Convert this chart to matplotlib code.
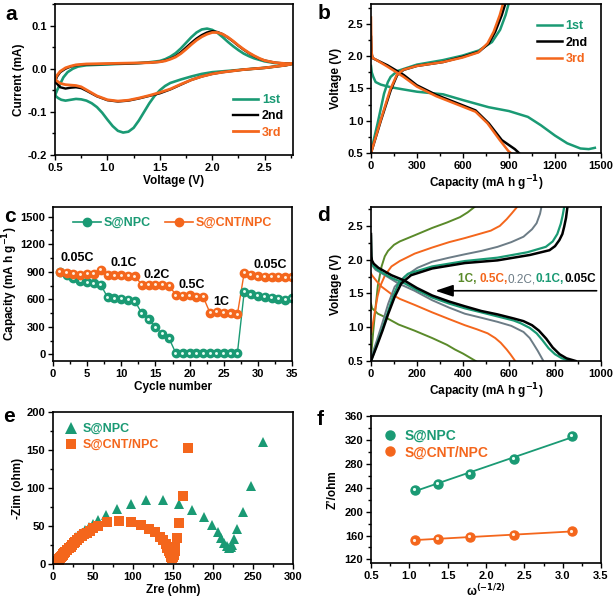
import numpy as np
import matplotlib
matplotlib.use('Agg')
import matplotlib.pyplot as plt
from matplotlib.ticker import AutoMinorLocator, MultipleLocator
from matplotlib.lines import Line2D
from matplotlib.offsetbox import TextArea, HPacker, AnnotationBbox
import matplotlib.transforms as mtransforms

plt.rcParams['font.family'] = ['Liberation Sans', 'DejaVu Sans']
plt.rcParams['font.weight'] = 'bold'
plt.rcParams['axes.labelweight'] = 'bold'
plt.rcParams['mathtext.default'] = 'bf'
plt.rcParams['axes.unicode_minus'] = False

GREEN = '#1a9a74'
ORANGE = '#f4661c'
OLIVE = '#5a8a2a'
GRAY = '#6c7c86'

#%% data

# a: CV curves (voltage, current), closed loops
cv_1st = np.array([(0.50, -0.062), (0.52, -0.05), (0.55, -0.035), (0.58, -0.02), (0.62, -0.008), (0.67, 0.0),
                   (0.72, 0.005), (0.8, 0.008), (0.9, 0.009), (1.0, 0.010), (1.1, 0.011), (1.2, 0.012),
                   (1.3, 0.013), (1.4, 0.015), (1.5, 0.018), (1.55, 0.022), (1.6, 0.028), (1.65, 0.036),
                   (1.7, 0.047), (1.75, 0.06), (1.8, 0.073), (1.85, 0.084), (1.9, 0.091), (1.95, 0.093),
                   (2.0, 0.090), (2.05, 0.083), (2.1, 0.073), (2.15, 0.062), (2.2, 0.052), (2.25, 0.043),
                   (2.3, 0.035), (2.35, 0.029), (2.4, 0.024), (2.5, 0.017), (2.6, 0.013), (2.7, 0.012),
                   (2.78, 0.012), (2.7, 0.008), (2.6, 0.005), (2.5, 0.002), (2.4, 0.0), (2.3, -0.002),
                   (2.2, -0.004), (2.1, -0.006), (2.0, -0.008), (1.9, -0.012), (1.8, -0.018), (1.7, -0.025),
                   (1.6, -0.033), (1.55, -0.04), (1.5, -0.05), (1.45, -0.063), (1.4, -0.08), (1.35, -0.1),
                   (1.3, -0.12), (1.25, -0.137), (1.2, -0.146), (1.15, -0.148), (1.1, -0.144), (1.05, -0.133),
                   (1.0, -0.118), (0.95, -0.102), (0.9, -0.089), (0.85, -0.08), (0.8, -0.074), (0.75, -0.071),
                   (0.7, -0.07), (0.65, -0.072), (0.6, -0.074), (0.56, -0.072), (0.53, -0.068), (0.5, -0.062)])
cv_2nd = np.array([(0.5, -0.03), (0.52, -0.018), (0.55, -0.008), (0.6, 0.0), (0.65, 0.005), (0.7, 0.008),
                   (0.8, 0.010), (1.0, 0.011), (1.2, 0.012), (1.4, 0.014), (1.5, 0.016), (1.55, 0.019),
                   (1.6, 0.023), (1.65, 0.029), (1.7, 0.038), (1.75, 0.049), (1.8, 0.060), (1.85, 0.070),
                   (1.9, 0.078), (1.95, 0.084), (2.0, 0.087), (2.05, 0.085), (2.1, 0.080), (2.15, 0.072),
                   (2.2, 0.063), (2.25, 0.053), (2.3, 0.044), (2.35, 0.036), (2.4, 0.029), (2.45, 0.023),
                   (2.5, 0.019), (2.6, 0.014), (2.7, 0.012), (2.78, 0.012), (2.7, 0.008), (2.6, 0.005),
                   (2.5, 0.002), (2.4, 0.0), (2.3, -0.002), (2.2, -0.005), (2.1, -0.008), (2.0, -0.012),
                   (1.9, -0.018), (1.8, -0.026), (1.7, -0.037), (1.6, -0.048), (1.5, -0.057), (1.4, -0.063),
                   (1.3, -0.069), (1.2, -0.074), (1.1, -0.076), (1.0, -0.073), (0.9, -0.064), (0.8, -0.051),
                   (0.75, -0.045), (0.7, -0.043), (0.65, -0.044), (0.6, -0.046), (0.55, -0.043), (0.5, -0.03)])
cv_3rd = np.array([(0.5, -0.025), (0.52, -0.015), (0.55, -0.006), (0.6, 0.002), (0.65, 0.006), (0.7, 0.009),
                   (0.8, 0.011), (1.0, 0.012), (1.2, 0.013), (1.4, 0.014), (1.5, 0.016), (1.55, 0.018),
                   (1.6, 0.022), (1.65, 0.027), (1.7, 0.035), (1.75, 0.045), (1.8, 0.056), (1.85, 0.066),
                   (1.9, 0.074), (1.95, 0.080), (2.0, 0.084), (2.05, 0.084), (2.1, 0.080), (2.15, 0.073),
                   (2.2, 0.064), (2.25, 0.054), (2.3, 0.045), (2.35, 0.037), (2.4, 0.030), (2.45, 0.024),
                   (2.5, 0.019), (2.6, 0.014), (2.7, 0.012), (2.78, 0.012), (2.7, 0.008), (2.6, 0.005),
                   (2.5, 0.002), (2.4, 0.0), (2.3, -0.002), (2.2, -0.005), (2.1, -0.008), (2.0, -0.012),
                   (1.9, -0.018), (1.8, -0.026), (1.7, -0.036), (1.6, -0.047), (1.5, -0.055), (1.4, -0.062),
                   (1.3, -0.068), (1.2, -0.073), (1.1, -0.075), (1.0, -0.072), (0.9, -0.063), (0.8, -0.049),
                   (0.75, -0.042), (0.7, -0.039), (0.65, -0.038), (0.6, -0.037), (0.55, -0.034), (0.5, -0.025)])

# b: first three cycles (capacity, voltage)
b_1st_dis = np.array([(0, 1.85), (5, 1.75), (15, 1.68), (30, 1.6), (64, 1.56), (128, 1.52), (200, 1.49),
                      (300, 1.45), (470, 1.41), (600, 1.32), (767, 1.21), (900, 1.15), (1023, 1.06),
                      (1108, 0.93), (1200, 0.77), (1280, 0.65), (1366, 0.57), (1420, 0.56), (1460, 0.58)])
b_1st_chg = np.array([(0, 0.52), (43, 0.96), (85, 1.42), (110, 1.6), (128, 1.68), (171, 1.77), (299, 1.87),
                      (469, 1.94), (597, 2.01), (704, 2.09), (789, 2.22), (842, 2.41), (878, 2.64), (896, 2.8)])
b_2nd_dis = np.array([(0, 2.3), (3, 2.05), (11, 1.97), (107, 1.86), (213, 1.71), (299, 1.55), (426, 1.40),
                      (597, 1.24), (682, 1.16), (768, 0.96), (853, 0.70), (938, 0.56), (965, 0.5)])
b_2nd_chg = np.array([(0, 0.5), (64, 1.0), (128, 1.47), (171, 1.71), (213, 1.79), (299, 1.85), (469, 1.91),
                      (597, 1.99), (704, 2.07), (768, 2.2), (810, 2.38), (853, 2.64), (874, 2.8)])
b_3rd_dis = np.array([(0, 2.6), (3, 2.1), (8, 1.98), (107, 1.84), (213, 1.68), (299, 1.53), (426, 1.38),
                      (597, 1.22), (682, 1.14), (760, 0.96), (840, 0.70), (896, 0.53), (912, 0.5)])
b_3rd_chg = np.array([(0, 0.5), (62, 1.0), (125, 1.48), (168, 1.71), (210, 1.79), (299, 1.85), (469, 1.91),
                      (597, 1.98), (700, 2.06), (760, 2.2), (800, 2.38), (840, 2.64), (859, 2.8)])

# c: rate capability
cycles = np.arange(1, 36)
cap_npc = [893, 864, 830, 800, 785, 775, 757, 620, 610, 605, 595, 580, 447, 381, 294, 221, 174,
           10, 10, 10, 10, 10, 10, 10, 10, 10, 10, 680, 655, 640, 628, 618, 605, 595, 610]
cap_cnt = [900, 890, 880, 870, 875, 880, 920, 865, 860, 860, 855, 850, 760, 755, 755, 755, 750,
           645, 640, 645, 630, 625, 450, 465, 455, 445, 435, 890, 865, 850, 845, 845, 845, 840, 840]
rate_labels = ['0.05C', '0.1C', '0.2C', '0.5C', '1C', '0.05C']
rate_label_x = [3.5, 10.3, 15.2, 20.3, 24.7, 31.8]
rate_label_y = [1050, 992, 864, 755, 573, 973]

# d: discharge / charge at different rates
d_005_dis = np.array([(0, 2.38), (1, 2.2), (2, 2.05), (4, 1.99), (12, 1.94), (32, 1.88), (89, 1.77), (146, 1.69),
                      (200, 1.58), (266, 1.47), (340, 1.38), (408, 1.31), (480, 1.24), (550, 1.19), (620, 1.13),
                      (663, 1.09), (700, 1.03), (730, 0.95), (762, 0.83), (790, 0.7), (820, 0.6), (850, 0.54),
                      (890, 0.5)])
d_005_chg = np.array([(0, 0.5), (25, 0.72), (50, 0.95), (75, 1.2), (103, 1.45), (132, 1.65), (174, 1.77),
                      (266, 1.87), (408, 1.95), (550, 1.99), (691, 2.07), (776, 2.14), (800, 2.2), (819, 2.29),
                      (832, 2.38), (840, 2.49), (848, 2.62), (854, 2.78)])
d_01_dis = np.array([(0, 2.35), (1, 2.15), (2, 2.0), (4, 1.95), (12, 1.9), (32, 1.84), (89, 1.73), (146, 1.65),
                     (200, 1.55), (266, 1.44), (340, 1.35), (408, 1.28), (480, 1.22), (550, 1.16), (620, 1.1),
                     (650, 1.06), (690, 0.99), (720, 0.91), (745, 0.81), (772, 0.69), (800, 0.6), (830, 0.54),
                     (865, 0.5)])
d_01_chg = np.array([(0, 0.5), (25, 0.74), (50, 0.98), (75, 1.24), (95, 1.45), (120, 1.65), (160, 1.79),
                     (266, 1.9), (408, 1.98), (550, 2.03), (680, 2.11), (760, 2.19), (790, 2.27), (810, 2.38),
                     (825, 2.53), (833, 2.65), (840, 2.78)])
d_02_dis = np.array([(0, 2.0), (4, 1.92), (20, 1.85), (46, 1.8), (118, 1.65), (189, 1.54), (266, 1.40),
                     (340, 1.29), (408, 1.2), (480, 1.14), (550, 1.08), (610, 1.02), (663, 0.93), (690, 0.84),
                     (705, 0.76), (725, 0.65), (748, 0.51)])
d_02_chg = np.array([(0, 0.55), (25, 0.8), (50, 1.07), (75, 1.35), (103, 1.6), (146, 1.75), (202, 1.88),
                     (266, 1.97), (340, 2.03), (408, 2.08), (480, 2.13), (550, 2.19), (610, 2.26), (663, 2.34),
                     (700, 2.45), (720, 2.54), (735, 2.68), (741, 2.78)])
d_05_dis = np.array([(0, 1.8), (4, 1.77), (25, 1.68), (46, 1.6), (89, 1.49), (125, 1.42), (190, 1.33),
                     (266, 1.22), (340, 1.12), (408, 1.03), (460, 0.97), (507, 0.91), (540, 0.84), (564, 0.77),
                     (590, 0.67), (606, 0.6), (627, 0.5)])
d_05_chg = np.array([(0, 0.9), (8, 1.05), (18, 1.25), (28, 1.45), (39, 1.6), (61, 1.77), (89, 1.9), (125, 1.98),
                     (190, 2.09), (266, 2.18), (340, 2.26), (408, 2.32), (470, 2.38), (521, 2.43), (560, 2.5),
                     (590, 2.6), (613, 2.69), (635, 2.78)])
d_1_dis = np.array([(0, 1.35), (5, 1.28), (30, 1.2), (61, 1.15), (120, 1.04), (189, 0.95), (266, 0.84),
                    (330, 0.74), (365, 0.67), (400, 0.61), (430, 0.55), (455, 0.5)])
d_1_chg = np.array([(0, 0.55), (5, 0.75), (10, 0.95), (20, 1.3), (30, 1.62), (46, 1.9), (60, 2.05), (74, 2.13),
                    (100, 2.22), (125, 2.27), (189, 2.36), (266, 2.47), (330, 2.55), (387, 2.63), (420, 2.7),
                    (450, 2.78)])

# e: Nyquist plots (Zre, -Zim)
eis_npc = np.array([(3, 2), (4, 3), (5, 5), (6, 6), (7, 8), (8, 9), (9, 11), (10, 13), (11, 14), (12, 16),
                    (14, 18), (15, 20), (17, 22), (19, 24), (21, 27), (23, 29), (26, 32), (29, 35), (32, 38),
                    (36, 41), (40, 45), (45, 49), (50, 53), (56, 58), (66, 65), (80, 73), (97, 79), (116, 84),
                    (137, 84), (157, 79), (174, 71), (189, 62), (199, 51), (206, 42), (210, 34), (214, 28),
                    (217, 24), (220, 21), (222, 22), (224, 25), (226, 33), (230, 46), (237, 68), (247, 102),
                    (262, 160)])
eis_cnt = np.array([(3, 1), (4, 2), (5, 3), (6, 4), (7, 5), (8, 6), (9, 8), (10, 9), (11, 10), (12, 12),
                    (13, 13), (14, 14), (15, 16), (17, 18), (18, 19), (20, 21), (22, 23), (24, 25), (26, 27),
                    (28, 29), (30, 31), (33, 34), (36, 37), (39, 39), (42, 41), (46, 44), (50, 47), (56, 50),
                    (68, 55), (83, 56), (97, 55), (110, 51), (120, 46), (128, 42), (134, 36), (138, 31),
                    (141, 26), (143, 21), (145, 17), (146, 14), (147, 11), (148, 9), (149, 8), (150, 9),
                    (151, 12), (152, 17), (153, 23), (155, 34), (157, 54), (162, 89), (169, 152)])

# f: Z' vs omega^-1/2
omega = [1.07, 1.37, 1.79, 2.36, 3.12]
z_npc = [237, 247, 263, 288, 327]
z_cnt = [152, 155, 157.5, 161, 167]

#%% figure

W, H = 616, 607
fig = plt.figure(figsize=(W / 100, H / 100), dpi=100)


def box(l, r, t, b):
    return [l / W, 1 - b / H, (r - l) / W, (b - t) / H]


def style(ax):
    for s in ax.spines.values():
        s.set_linewidth(1.2)
    ax.tick_params(which='both', direction='out', top=False, right=False, labelsize=8, width=1.0)
    ax.tick_params(which='major', length=3.5, pad=2)
    ax.tick_params(which='minor', length=2)
    ax.xaxis.set_minor_locator(AutoMinorLocator(2))
    ax.yaxis.set_minor_locator(AutoMinorLocator(2))
    for lab in ax.get_xticklabels() + ax.get_yticklabels():
        lab.set_fontweight('bold')


def sphere(ax, x, y, color, ms, **kw):
    h1, = ax.plot(x, y, 'o', color=color, ms=ms, mec=color, **kw)
    off = mtransforms.offset_copy(ax.transData, fig=fig, x=-0.4, y=0.4, units='points')
    h2, = ax.plot(x, y, 'o', color='#e8fff4' if color == GREEN else '#fff0e0', ms=ms * 0.35,
                  mew=0, transform=off)
    return h1, h2


LAB = 8.5
R = 601  # right edge of right-hand panels

# ---- a
ax = fig.add_axes(box(55, 293, 4, 155))
for data, c, lab, lw in [(cv_1st, GREEN, '1st', 1.9), (cv_2nd, 'black', '2nd', 1.7), (cv_3rd, ORANGE, '3rd', 2.0)]:
    ax.plot(data[:, 0], data[:, 1], color=c, lw=lw, label=lab)
ax.set_xlim(0.5, 2.77)
ax.set_ylim(-0.2, 0.15)
ax.xaxis.set_major_locator(MultipleLocator(0.5))
ax.yaxis.set_major_locator(MultipleLocator(0.1))
ax.set_xlabel('Voltage (V)', fontsize=LAB, labelpad=2)
ax.set_ylabel('Current (mA)', fontsize=LAB, labelpad=2)
style(ax)
leg = ax.legend(loc='lower right', bbox_to_anchor=(1.0, 0.05), frameon=False, fontsize=9,
                handlelength=2.0, handletextpad=0.3, labelspacing=0.35, borderaxespad=0.3)
for t, c in zip(leg.get_texts(), [GREEN, 'black', ORANGE]):
    t.set_color(c)

# ---- b
ax = fig.add_axes(box(371, R, 4, 153))
for dis, chg, c, lab in [(b_1st_dis, b_1st_chg, GREEN, '1st'), (b_2nd_dis, b_2nd_chg, 'black', '2nd'),
                         (b_3rd_dis, b_3rd_chg, ORANGE, '3rd')]:
    ax.plot(dis[:, 0], dis[:, 1], color=c, lw=1.8, label=lab)
    ax.plot(chg[:, 0], chg[:, 1], color=c, lw=1.8)
ax.set_xlim(0, 1500)
ax.set_ylim(0.5, 2.81)
ax.xaxis.set_major_locator(MultipleLocator(300))
ax.yaxis.set_major_locator(MultipleLocator(0.5))
ax.set_xlabel('Capacity (mA h g$^{-1}$)', fontsize=LAB, labelpad=2)
ax.set_ylabel('Voltage (V)', fontsize=LAB, labelpad=4)
style(ax)
leg = ax.legend(loc='upper right', bbox_to_anchor=(0.98, 0.95), frameon=False, fontsize=9,
                handlelength=2.0, handletextpad=0.3, labelspacing=0.35, borderaxespad=0.3)
for t, c in zip(leg.get_texts(), [GREEN, 'black', ORANGE]):
    t.set_color(c)

# ---- c
ax = fig.add_axes(box(53, 292, 207, 361))
ax.plot(cycles, cap_npc, '-', color=GREEN, lw=1.0)
ax.plot(cycles, cap_cnt, '-', color=ORANGE, lw=1.0)
g1, g2 = sphere(ax, cycles, cap_npc, GREEN, 6)
o1, o2 = sphere(ax, cycles, cap_cnt, ORANGE, 6)
for s, x, y in zip(rate_labels, rate_label_x, rate_label_y):
    ax.text(x, y, s, ha='center', va='center', fontsize=9, fontweight='bold')
ax.set_xlim(0, 35)
ax.set_ylim(-73, 1606)
ax.xaxis.set_major_locator(MultipleLocator(5))
ax.yaxis.set_major_locator(MultipleLocator(300))
ax.set_xlabel('Cycle number', fontsize=LAB, labelpad=2)
ax.set_ylabel('Capacity (mA h g$^{-1}$)', fontsize=LAB, labelpad=0.5)
style(ax)
hg = Line2D([], [], color=GREEN, lw=1.2, marker='o', ms=6)
ho = Line2D([], [], color=ORANGE, lw=1.2, marker='o', ms=6)
leg = ax.legend([hg, ho], ['S@NPC', 'S@CNT/NPC'], loc='upper center', bbox_to_anchor=(0.5, 1.0), ncol=2,
                frameon=False, fontsize=9, handlelength=2.2, handletextpad=0.2, columnspacing=1.2,
                borderaxespad=0.4)
for t, c in zip(leg.get_texts(), [GREEN, ORANGE]):
    t.set_color(c)

# ---- d
ax = fig.add_axes(box(371, R, 207, 361))
for dis, chg, c, lw in [(d_1_dis, d_1_chg, OLIVE, 1.4), (d_05_dis, d_05_chg, ORANGE, 1.4),
                        (d_02_dis, d_02_chg, GRAY, 1.4), (d_01_dis, d_01_chg, GREEN, 1.6),
                        (d_005_dis, d_005_chg, 'black', 1.8)]:
    ax.plot(dis[:, 0], dis[:, 1], color=c, lw=lw)
    ax.plot(chg[:, 0], chg[:, 1], color=c, lw=lw)
ax.annotate('', xy=(280, 1.54), xytext=(981, 1.54),
            arrowprops=dict(arrowstyle='-|>,head_length=0.9,head_width=0.3', color='black', lw=1.2,
                            mutation_scale=12, shrinkA=0, shrinkB=0))
parts = [('1C, ', OLIVE, 'bold'), ('0.5C,', ORANGE, 'bold'), ('0.2C,', GRAY, 'normal'),
         ('0.1C,', GREEN, 'bold'), ('0.05C', 'black', 'bold')]
boxes = [TextArea(s, textprops=dict(color=c, fontsize=8.5, fontweight=w)) for s, c, w in parts]
pack = HPacker(children=boxes, align='baseline', pad=0, sep=0)
ax.add_artist(AnnotationBbox(pack, (978, 1.71), xycoords='data', box_alignment=(1, 0.5), frameon=False))
ax.set_xlim(0, 1000)
ax.set_ylim(0.5, 2.78)
ax.xaxis.set_major_locator(MultipleLocator(200))
ax.yaxis.set_major_locator(MultipleLocator(0.5))
ax.set_xlabel('Capacity (mA h g$^{-1}$)', fontsize=LAB, labelpad=2)
ax.set_ylabel('Voltage (V)', fontsize=LAB, labelpad=4)
style(ax)

# ---- e
ax = fig.add_axes(box(53, 293, 412, 564))
ax.plot(eis_npc[:, 0], eis_npc[:, 1], '^', color=GREEN, ms=7.5, mew=0, label='S@NPC')
ax.plot(eis_cnt[:, 0], eis_cnt[:, 1], 's', color=ORANGE, ms=6.5, mew=0, label='S@CNT/NPC')
ax.set_xlim(0, 300)
ax.set_ylim(0, 200)
ax.xaxis.set_major_locator(MultipleLocator(50))
ax.yaxis.set_major_locator(MultipleLocator(50))
ax.set_xlabel('Zre (ohm)', fontsize=LAB, labelpad=2)
ax.set_ylabel('-Zim (ohm)', fontsize=LAB, labelpad=2)
style(ax)
leg = ax.legend(loc='upper left', frameon=False, fontsize=9, handlelength=1.0, handletextpad=0.5,
                labelspacing=0.3, borderaxespad=0.5, markerscale=1.1)
for t, c in zip(leg.get_texts(), [GREEN, ORANGE]):
    t.set_color(c)

# ---- f
ax = fig.add_axes(box(371, R, 416, 563))
for x, y, c in [(omega, z_npc, GREEN), (omega, z_cnt, ORANGE)]:
    k, b0 = np.polyfit(x, y, 1)
    xs = np.array([min(x), max(x)])
    ax.plot(xs, k * xs + b0, color=c, lw=1.3)
fg = sphere(ax, omega, z_npc, GREEN, 6.5)
fo = sphere(ax, omega, z_cnt, ORANGE, 6.5)
ax.set_xlim(0.5, 3.5)
ax.set_ylim(114, 360)
ax.xaxis.set_major_locator(MultipleLocator(0.5))
ax.yaxis.set_major_locator(MultipleLocator(40))
ax.set_xlabel('ω$^{(-1/2)}$', fontsize=LAB, labelpad=2)
ax.set_ylabel('Z’/ohm', fontsize=LAB, labelpad=4)
style(ax)
hg = Line2D([], [], ls='none', color=GREEN, marker='o', ms=6.5)
ho = Line2D([], [], ls='none', color=ORANGE, marker='o', ms=6.5)
leg = ax.legend([hg, ho], ['S@NPC', 'S@CNT/NPC'], loc='upper left', frameon=False, fontsize=10,
                handlelength=1.0, handletextpad=0.5, labelspacing=0.2, borderaxespad=0.5)
for t, c in zip(leg.get_texts(), [GREEN, ORANGE]):
    t.set_color(c)

# panel letters
for s, x, y in [('a', 5, 20), ('b', 318, 19), ('c', 4, 222), ('d', 317, 221), ('e', 3, 422), ('f', 317, 425)]:
    fig.text(x / W, 1 - y / H, s, fontsize=15, fontweight='bold', va='baseline', ha='left')

fig.savefig('out.png', dpi=100)
